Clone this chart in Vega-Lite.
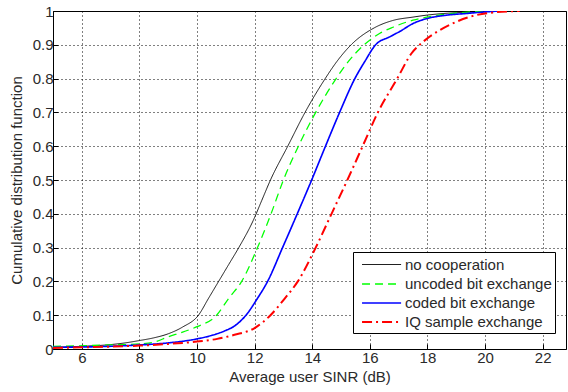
{
  "$schema": "https://vega.github.io/schema/vega-lite/v6.json",
  "autosize": "none",
  "padding": {"left": 53, "top": 11, "right": 2, "bottom": 43},
  "width": 513,
  "height": 338,
  "background": "white",
  "config": {
    "view": {"stroke": "black", "strokeWidth": 1},
    "font": "Liberation Sans",
    "axis": {
      "labelFont": "Liberation Sans",
      "titleFont": "Liberation Sans",
      "labelFontSize": 15,
      "titleFontSize": 15,
      "titleFontWeight": "normal",
      "labelColor": "#2a2a2a",
      "titleColor": "#2a2a2a",
      "domain": false,
      "ticks": true,
      "tickSize": -5,
      "tickColor": "#000000",
      "tickWidth": 1,
      "grid": true,
      "gridColor": "#000000",
      "gridDash": [1, 3],
      "gridWidth": 1,
      "gridOpacity": 1
    },
    "legend": {
      "orient": "none",
      "legendX": 300,
      "legendY": 241,
      "fillColor": "white",
      "strokeColor": "black",
      "padding": 3,
      "rowPadding": 1,
      "labelFont": "Liberation Sans",
      "labelFontSize": 15,
      "labelColor": "#2a2a2a",
      "labelOffset": 29,
      "labelLimit": 300,
      "symbolType": "M-0.44,0H3.9",
      "symbolSize": 324
    }
  },
  "data": {
    "values": [
      {"s": "no cooperation", "x": 5, "y": 0.005},
      {"s": "no cooperation", "x": 6, "y": 0.008},
      {"s": "no cooperation", "x": 7, "y": 0.013},
      {"s": "no cooperation", "x": 7.5, "y": 0.018},
      {"s": "no cooperation", "x": 8, "y": 0.025},
      {"s": "no cooperation", "x": 8.5, "y": 0.033},
      {"s": "no cooperation", "x": 9, "y": 0.045},
      {"s": "no cooperation", "x": 9.5, "y": 0.065},
      {"s": "no cooperation", "x": 10.05, "y": 0.1},
      {"s": "no cooperation", "x": 10.4, "y": 0.15},
      {"s": "no cooperation", "x": 10.75, "y": 0.2},
      {"s": "no cooperation", "x": 11.1, "y": 0.25},
      {"s": "no cooperation", "x": 11.45, "y": 0.3},
      {"s": "no cooperation", "x": 11.95, "y": 0.38},
      {"s": "no cooperation", "x": 12.25, "y": 0.44},
      {"s": "no cooperation", "x": 12.55, "y": 0.5},
      {"s": "no cooperation", "x": 13.15, "y": 0.6},
      {"s": "no cooperation", "x": 13.75, "y": 0.7},
      {"s": "no cooperation", "x": 14.45, "y": 0.8},
      {"s": "no cooperation", "x": 14.85, "y": 0.85},
      {"s": "no cooperation", "x": 15.35, "y": 0.9},
      {"s": "no cooperation", "x": 16.15, "y": 0.95},
      {"s": "no cooperation", "x": 16.8, "y": 0.972},
      {"s": "no cooperation", "x": 17.5, "y": 0.982},
      {"s": "no cooperation", "x": 18, "y": 0.988},
      {"s": "no cooperation", "x": 19, "y": 0.995},
      {"s": "no cooperation", "x": 20, "y": 0.998},
      {"s": "no cooperation", "x": 20.8, "y": 1.0},
      {"s": "uncoded bit exchange", "x": 5, "y": 0.008},
      {"s": "uncoded bit exchange", "x": 7, "y": 0.012},
      {"s": "uncoded bit exchange", "x": 8, "y": 0.015},
      {"s": "uncoded bit exchange", "x": 8.5, "y": 0.02},
      {"s": "uncoded bit exchange", "x": 9, "y": 0.036},
      {"s": "uncoded bit exchange", "x": 9.5, "y": 0.05},
      {"s": "uncoded bit exchange", "x": 10, "y": 0.066},
      {"s": "uncoded bit exchange", "x": 10.68, "y": 0.1},
      {"s": "uncoded bit exchange", "x": 11.1, "y": 0.15},
      {"s": "uncoded bit exchange", "x": 11.55, "y": 0.2},
      {"s": "uncoded bit exchange", "x": 12.1, "y": 0.3},
      {"s": "uncoded bit exchange", "x": 12.57, "y": 0.4},
      {"s": "uncoded bit exchange", "x": 13.0, "y": 0.5},
      {"s": "uncoded bit exchange", "x": 13.52, "y": 0.6},
      {"s": "uncoded bit exchange", "x": 14.12, "y": 0.7},
      {"s": "uncoded bit exchange", "x": 14.83, "y": 0.8},
      {"s": "uncoded bit exchange", "x": 15.25, "y": 0.85},
      {"s": "uncoded bit exchange", "x": 15.8, "y": 0.9},
      {"s": "uncoded bit exchange", "x": 16.35, "y": 0.934},
      {"s": "uncoded bit exchange", "x": 16.8, "y": 0.952},
      {"s": "uncoded bit exchange", "x": 17.5, "y": 0.973},
      {"s": "uncoded bit exchange", "x": 18.2, "y": 0.985},
      {"s": "uncoded bit exchange", "x": 18.9, "y": 0.993},
      {"s": "uncoded bit exchange", "x": 20, "y": 1.0},
      {"s": "coded bit exchange", "x": 5, "y": 0.005},
      {"s": "coded bit exchange", "x": 7, "y": 0.008},
      {"s": "coded bit exchange", "x": 8, "y": 0.012},
      {"s": "coded bit exchange", "x": 9, "y": 0.018},
      {"s": "coded bit exchange", "x": 10, "y": 0.03},
      {"s": "coded bit exchange", "x": 10.5, "y": 0.04},
      {"s": "coded bit exchange", "x": 11, "y": 0.055},
      {"s": "coded bit exchange", "x": 11.3, "y": 0.068},
      {"s": "coded bit exchange", "x": 11.7, "y": 0.1},
      {"s": "coded bit exchange", "x": 12.1, "y": 0.15},
      {"s": "coded bit exchange", "x": 12.45, "y": 0.2},
      {"s": "coded bit exchange", "x": 12.97, "y": 0.3},
      {"s": "coded bit exchange", "x": 13.48, "y": 0.4},
      {"s": "coded bit exchange", "x": 13.98, "y": 0.5},
      {"s": "coded bit exchange", "x": 14.46, "y": 0.6},
      {"s": "coded bit exchange", "x": 14.95, "y": 0.7},
      {"s": "coded bit exchange", "x": 15.48, "y": 0.8},
      {"s": "coded bit exchange", "x": 15.82, "y": 0.85},
      {"s": "coded bit exchange", "x": 16.2, "y": 0.9},
      {"s": "coded bit exchange", "x": 16.7, "y": 0.924},
      {"s": "coded bit exchange", "x": 17.05, "y": 0.94},
      {"s": "coded bit exchange", "x": 17.5, "y": 0.963},
      {"s": "coded bit exchange", "x": 18, "y": 0.978},
      {"s": "coded bit exchange", "x": 18.7, "y": 0.988},
      {"s": "coded bit exchange", "x": 19.4, "y": 0.993},
      {"s": "coded bit exchange", "x": 19.8, "y": 0.996},
      {"s": "coded bit exchange", "x": 20.5, "y": 1.0},
      {"s": "IQ sample exchange", "x": 5, "y": 0.003},
      {"s": "IQ sample exchange", "x": 6, "y": 0.005},
      {"s": "IQ sample exchange", "x": 7, "y": 0.007},
      {"s": "IQ sample exchange", "x": 8, "y": 0.01},
      {"s": "IQ sample exchange", "x": 9, "y": 0.015},
      {"s": "IQ sample exchange", "x": 10, "y": 0.022},
      {"s": "IQ sample exchange", "x": 10.7, "y": 0.03},
      {"s": "IQ sample exchange", "x": 11.3, "y": 0.042},
      {"s": "IQ sample exchange", "x": 12, "y": 0.062},
      {"s": "IQ sample exchange", "x": 12.55, "y": 0.1},
      {"s": "IQ sample exchange", "x": 13.05, "y": 0.15},
      {"s": "IQ sample exchange", "x": 13.5, "y": 0.2},
      {"s": "IQ sample exchange", "x": 14.12, "y": 0.3},
      {"s": "IQ sample exchange", "x": 14.67, "y": 0.4},
      {"s": "IQ sample exchange", "x": 15.22, "y": 0.5},
      {"s": "IQ sample exchange", "x": 15.75, "y": 0.6},
      {"s": "IQ sample exchange", "x": 16.28, "y": 0.7},
      {"s": "IQ sample exchange", "x": 16.95, "y": 0.8},
      {"s": "IQ sample exchange", "x": 17.45, "y": 0.875},
      {"s": "IQ sample exchange", "x": 17.85, "y": 0.909},
      {"s": "IQ sample exchange", "x": 18.44, "y": 0.944},
      {"s": "IQ sample exchange", "x": 19, "y": 0.968},
      {"s": "IQ sample exchange", "x": 19.7, "y": 0.988},
      {"s": "IQ sample exchange", "x": 20.2, "y": 0.995},
      {"s": "IQ sample exchange", "x": 21.2, "y": 1.0}
    ]
  },
  "mark": {"type": "line", "clip": true, "interpolate": "monotone"},
  "encoding": {
    "x": {
      "field": "x",
      "type": "quantitative",
      "scale": {"domain": [5, 22.81], "nice": false, "zero": false},
      "axis": {"values": [6, 8, 10, 12, 14, 16, 18, 20, 22], "title": "Average user SINR (dB)", "labelPadding": 6, "titlePadding": 4}
    },
    "y": {
      "field": "y",
      "type": "quantitative",
      "scale": {"domain": [0, 1], "nice": false},
      "axis": {"values": [0, 0.1, 0.2, 0.3, 0.4, 0.5, 0.6, 0.7, 0.8, 0.9, 1], "format": "~g", "title": "Cumulative distribution function", "labelPadding": 5, "titlePadding": 8}
    },
    "color": {
      "field": "s",
      "type": "nominal",
      "title": null,
      "scale": {
        "domain": ["no cooperation", "uncoded bit exchange", "coded bit exchange", "IQ sample exchange"],
        "range": ["#000000", "#00ff00", "#0000ff", "#ff0000"]
      }
    },
    "strokeDash": {
      "field": "s",
      "type": "nominal",
      "title": null,
      "scale": {
        "domain": ["no cooperation", "uncoded bit exchange", "coded bit exchange", "IQ sample exchange"],
        "range": [[1, 0], [8, 5], [1, 0], [10, 4, 2, 4]]
      }
    },
    "strokeWidth": {
      "field": "s",
      "type": "nominal",
      "title": null,
      "scale": {
        "domain": ["no cooperation", "uncoded bit exchange", "coded bit exchange", "IQ sample exchange"],
        "range": [0.9, 2, 2, 1.6]
      }
    }
  }
}
